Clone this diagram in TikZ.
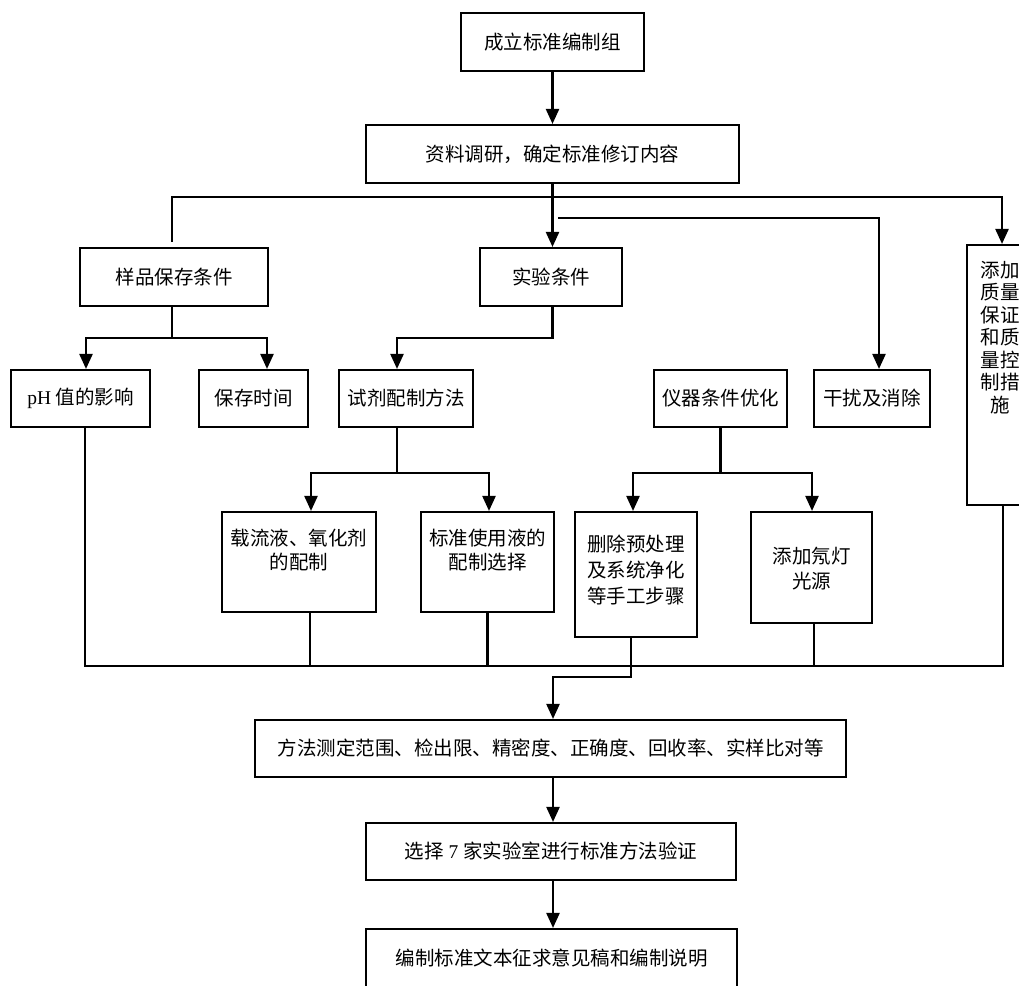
\documentclass[tikz,border=0pt]{standalone}
\usepackage{fontspec}
\setmainfont{Liberation Serif}
\newfontfamily\zh{Noto Sans CJK SC}
\usetikzlibrary{arrows.meta}
\newcommand\mytxt[5]{\parbox[c][#1][t]{#2}{\centering\fontsize{19.5}{#3}\selectfont\vspace*{#4}#5}}
\tikzset{
  box/.style={draw, line width=2.1pt, inner sep=0pt, align=center,
    font=\zh\fontsize{19.5}{24}\selectfont},
  ln/.style={line width=2.3pt},
  arr/.style={line width=2.3pt, -{Triangle[width=13pt,length=15pt]}}
}
\begin{document}
\begin{tikzpicture}[x=1pt,y=-1pt]
\useasboundingbox (0,0) rectangle (1019,985);
\clip (0,0) rectangle (1019,985);
% nodes
\node[box, minimum width=183pt, minimum height=58pt] (b1) at (552.5,42) {成立标准编制组};
\node[box, minimum width=373pt, minimum height=58pt] (b2) at (552.5,154) {资料调研，确定标准修订内容};
\node[box, minimum width=188pt, minimum height=58pt] (yp) at (174,277) {样品保存条件};
\node[box, minimum width=142pt, minimum height=58pt] (sy) at (551,277) {实验条件};
\node[box, minimum width=116pt, minimum height=57pt] (gr) at (872,398.5) {干扰及消除};
\node[box] (zl) at (1000,375) {\mytxt{260pt}{66pt}{22.5pt}{16pt}{添加\\质量\\保证\\和质\\量控\\制措\\施}};
\node[box, minimum width=139pt, minimum height=57pt] (ph) at (80.5,398.5) {{\rmfamily pH} 值的影响};
\node[box, minimum width=109pt, minimum height=57pt] (bc) at (253.5,398.5) {保存时间};
\node[box, minimum width=134pt, minimum height=57pt] (sj) at (406,398.5) {试剂配制方法};
\node[box, minimum width=133pt, minimum height=57pt] (yq) at (720.5,398.5) {仪器条件优化};
\node[box] (zj) at (299,562) {\mytxt{100pt}{154pt}{24pt}{17pt}{载流液、氧化剂\\的配制}};
\node[box] (bz) at (487.5,562) {\mytxt{100pt}{133pt}{24pt}{17pt}{标准使用液的\\配制选择}};
\node[box] (sc) at (636,574.5) {\mytxt{125pt}{122pt}{26pt}{23pt}{删除预处理\\及系统净化\\等手工步骤}};
\node[box] (nd) at (811.5,567.5) {\mytxt{111pt}{121pt}{25pt}{35pt}{添加氖灯\\光源}};
\node[box, minimum width=591pt, minimum height=57pt] (ff) at (550.5,748.5) {方法测定范围、检出限、精密度、正确度、回收率、实样比对等};
\node[box, minimum width=370pt, minimum height=57pt] (xz) at (551,851.5) {选择{\rmfamily\ 7\ }家实验室进行标准方法验证};
\node[box, minimum width=371pt, minimum height=58pt] (bj) at (551.5,958) {编制标准文本征求意见稿和编制说明};
% junction coordinates
\coordinate (busT) at (553,197);
\coordinate (busT2) at (558,218);
\coordinate (busB) at (553,666);
\coordinate (jn) at (553,677);
% connectors
\draw[arr] (b1) -- (b2);
\draw[arr] (b2.south) -- (b2.south |- sy.north);
\draw[arr] ([shift={(-2pt,5pt)}]yp.north) |- ([xshift=2pt]zl.north |- busT) -- ([xshift=2pt]zl.north);
\draw[arr] (busT2) -| ([xshift=7pt]gr.north);
\draw[ln] ([xshift=-2pt]yp.south) -- ++(0,31) coordinate (ypj);
\draw[arr] (ypj) -| ([xshift=5.5pt]ph.north);
\draw[arr] (ypj) -| ([xshift=13.5pt]bc.north);
\draw[arr] (b2.south |- sy.south) -- ++(0,31) -| ([xshift=-9pt]sj.north);
\draw[ln] ([xshift=-9pt]sj.south) -- ++(0,45) coordinate (sjj);
\draw[arr] (sjj) -| ([xshift=12pt]zj.north);
\draw[arr] (sjj) -| ([xshift=1.5pt]bz.north);
\draw[ln] (yq.south) -- ++(0,45) coordinate (yqj);
\draw[arr] (yqj) -| ([xshift=-3pt]sc.north);
\draw[arr] (yqj) -| ([xshift=0.5pt]nd.north);
\draw[ln] ([xshift=4.5pt]ph.south) |- ([xshift=3pt]zl.south |- busB) -- ([xshift=3pt]zl.south);
\draw[ln] ([xshift=11pt]zj.south) -- ([xshift=11pt]zj.south |- busB);
\draw[ln] (bz.south) -- (bz.south |- busB);
\draw[ln] ([xshift=2.5pt]nd.south) -- ([xshift=2.5pt]nd.south |- busB);
\draw[arr] ([xshift=-5pt]sc.south) |- (jn) -- (jn |- ff.north);
\draw[arr] (ff.south -| jn) -- (jn |- xz.north);
\draw[arr] (xz.south -| jn) -- (jn |- bj.north);
\end{tikzpicture}
\end{document}
